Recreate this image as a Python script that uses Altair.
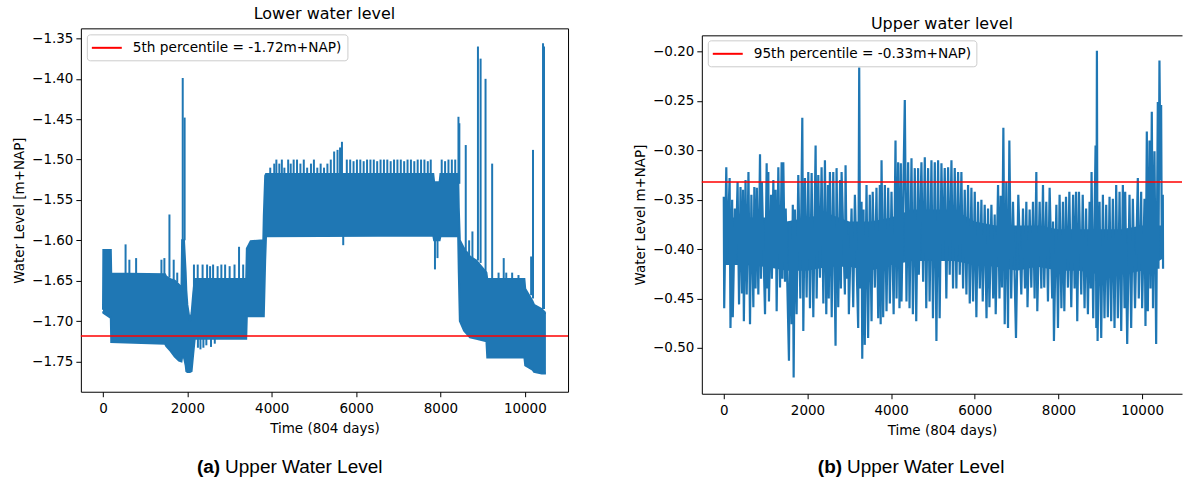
import altair as alt
import pandas as pd

BLUE = "#1f77b4"
FONT = "DejaVu Sans"

# ---------------- Lower water level ----------------
# envelope of the dense record: time step, lower and upper edge of the band
lower_t = [0, 8, 185, 195, 1470, 1500, 1600, 1700, 1800, 1860,
           1875, 1920, 1960, 1975, 2000, 2060, 2100, 2140, 2175, 3395,
           3410, 3500, 3800, 3812, 3845, 3865, 7830, 7850, 7980, 8000,
           8420, 8435, 8460, 8560, 8700, 8850, 9090, 9110, 9990, 10010,
           10180, 10220, 10400, 10490, 10500]
lower_lo = [-1.688, -1.690, -1.696, -1.726, -1.728, -1.731, -1.737, -1.744, -1.749, -1.750,
            -1.745, -1.745, -1.755, -1.762, -1.763, -1.763, -1.762, -1.740, -1.722, -1.722,
            -1.694, -1.694, -1.694, -1.694, -1.625, -1.595, -1.594, -1.600, -1.600, -1.595,
            -1.595, -1.640, -1.700, -1.712, -1.720, -1.722, -1.725, -1.745, -1.745, -1.755,
            -1.760, -1.763, -1.765, -1.765, -1.765]
lower_hi = [-1.686, -1.612, -1.612, -1.641, -1.642, -1.645, -1.648, -1.650, -1.655, -1.660,
            -1.600, -1.600, -1.640, -1.662, -1.680, -1.700, -1.690, -1.665, -1.648, -1.648,
            -1.610, -1.601, -1.600, -1.570, -1.520, -1.518, -1.518, -1.528, -1.528, -1.518,
            -1.518, -1.560, -1.600, -1.610, -1.620, -1.625, -1.640, -1.648, -1.648, -1.660,
            -1.675, -1.680, -1.685, -1.690, -1.690]

# short excursions of the lower record: time step, start level, peak level
spike_t = [535, 625, 785, 1385, 1455, 1575, 1676, 1760, 1890, 1935,
           2156, 2245, 2361, 2468, 2539, 2610, 2717, 2806, 2895, 3002,
           3118, 3225, 3323, 2250, 2310, 2380, 2450, 2560, 2650,
           3965, 4060, 4110, 4180, 4240, 4300, 4390, 4450, 4520, 4600,
           4680, 4760, 4840, 4930, 5000, 5080, 5160, 5240, 5320, 5400,
           5480, 5560, 5620, 5665, 5780, 5860, 5940, 6020, 6100, 6180,
           6260, 6340, 6420, 6500, 6580, 6660, 6740, 6820, 6900, 6980,
           7060, 7140, 7220, 7300, 7380, 7460, 7540, 7620, 7700, 7770,
           5695, 7870, 7930, 8030, 8110, 8190, 8270, 8350, 8427, 8448,
           8600, 8680, 8758, 8889, 8952, 9069, 9226, 9378, 9500, 9560,
           9700, 9850, 10150, 10194, 10432, 10455]
spike_from = [-1.641, -1.641, -1.641, -1.642, -1.642, -1.646, -1.650, -1.652, -1.600, -1.600,
              -1.660, -1.648, -1.648, -1.648, -1.648, -1.648, -1.648, -1.648, -1.648, -1.648,
              -1.648, -1.648, -1.648, -1.722, -1.722, -1.722, -1.722, -1.722, -1.722,
              -1.518, -1.518, -1.518, -1.518, -1.518, -1.518, -1.518, -1.518, -1.518, -1.518,
              -1.518, -1.518, -1.518, -1.518, -1.518, -1.518, -1.518, -1.518, -1.518, -1.518,
              -1.518, -1.518, -1.518, -1.518, -1.518, -1.518, -1.518, -1.518, -1.518, -1.518,
              -1.518, -1.518, -1.518, -1.518, -1.518, -1.518, -1.518, -1.518, -1.518, -1.518,
              -1.518, -1.518, -1.518, -1.518, -1.518, -1.518, -1.518, -1.518, -1.518, -1.518,
              -1.594, -1.600, -1.600, -1.518, -1.518, -1.518, -1.518, -1.518, -1.518, -1.530,
              -1.612, -1.620, -1.622, -1.625, -1.628, -1.640, -1.648, -1.648, -1.648, -1.648,
              -1.648, -1.648, -1.668, -1.672, -1.685, -1.685]
spike_to = [-1.605, -1.624, -1.622, -1.624, -1.622, -1.568, -1.624, -1.640, -1.399, -1.448,
            -1.630, -1.630, -1.630, -1.630, -1.632, -1.630, -1.632, -1.630, -1.630, -1.632,
            -1.630, -1.608, -1.630, -1.733, -1.735, -1.733, -1.730, -1.732, -1.728,
            -1.510, -1.505, -1.500, -1.505, -1.500, -1.510, -1.500, -1.505, -1.500, -1.500,
            -1.505, -1.500, -1.510, -1.505, -1.500, -1.510, -1.505, -1.510, -1.505, -1.500,
            -1.490, -1.488, -1.485, -1.478, -1.500, -1.500, -1.502, -1.500, -1.500, -1.502,
            -1.500, -1.500, -1.500, -1.502, -1.500, -1.500, -1.500, -1.502, -1.500, -1.500,
            -1.500, -1.502, -1.500, -1.500, -1.502, -1.500, -1.500, -1.500, -1.502, -1.500,
            -1.606, -1.636, -1.622, -1.500, -1.502, -1.500, -1.500, -1.500, -1.447, -1.455,
            -1.482, -1.600, -1.589, -1.360, -1.375, -1.400, -1.505, -1.640, -1.622, -1.640,
            -1.640, -1.643, -1.620, -1.488, -1.356, -1.360]

lower_p5 = -1.7185

# ---------------- Upper water level ----------------
upper_t = [0, 10, 60, 85, 140, 160, 200, 215, 265, 285,
           330, 365, 400, 435, 460, 480, 520, 548, 590, 627,
           660, 707, 730, 760, 790, 826, 866, 890, 910, 986,
           1025, 1045, 1065, 1080, 1130, 1150, 1185, 1205, 1240, 1264,
           1304, 1344, 1383, 1400, 1423, 1463, 1480, 1558, 1582, 1622,
           1650, 1670, 1700, 1741, 1781, 1830, 1877, 1901, 1940, 1980,
           2020, 2060, 2100, 2140, 2195, 2220, 2259, 2298, 2338, 2380,
           2418, 2450, 2490, 2510, 2537, 2580, 2617, 2672, 2696, 2736,
           2780, 2800, 2816, 2895, 2911, 2940, 2975, 2990, 3054, 3094,
           3134, 3213, 3237, 3260, 3293, 3310, 3340, 3370, 3412, 3450,
           3490, 3532, 3560, 3611, 3650, 3691, 3730, 3750, 3771, 3810,
           3850, 3890, 3930, 3970, 4009, 4060, 4105, 4130, 4168, 4200,
           4232, 4248, 4327, 4367, 4407, 4440, 4487, 4520, 4566, 4600,
           4646, 4662, 4725, 4765, 4805, 4840, 4884, 4920, 4964, 5000,
           5044, 5083, 5123, 5160, 5203, 5240, 5282, 5320, 5362, 5400,
           5442, 5480, 5521, 5560, 5601, 5640, 5680, 5720, 5760, 5800,
           5839, 5880, 5919, 5959, 5999, 6038, 6078, 6120, 6158, 6190,
           6237, 6280, 6317, 6350, 6397, 6440, 6476, 6500, 6556, 6590,
           6619, 6650, 6683, 6715, 6754, 6794, 6826, 6870, 6913, 6985,
           7040, 7112, 7152, 7200, 7232, 7260, 7311, 7351, 7391, 7430,
           7471, 7494, 7550, 7590, 7630, 7660, 7709, 7749, 7789, 7850,
           7870, 7892, 7950, 7988, 8027, 8070, 8107, 8140, 8180, 8226,
           8260, 8306, 8350, 8386, 8420, 8449, 8490, 8545, 8580, 8624,
           8660, 8704, 8744, 8770, 8791, 8830, 8887, 8905, 8919, 8935,
           8982, 9022, 9062, 9100, 9141, 9180, 9221, 9260, 9300, 9340,
           9380, 9420, 9460, 9500, 9539, 9580, 9595, 9643, 9698, 9738,
           9778, 9830, 9897, 9920, 9977, 10000, 10057, 10080, 10112, 10136,
           10176, 10200, 10231, 10260, 10295, 10335, 10375, 10390, 10414, 10440,
           10454, 10470, 10494, 10500]
upper_v = [-0.347, -0.460, -0.317, -0.402, -0.328, -0.480, -0.350, -0.469, -0.359, -0.412,
           -0.332, -0.456, -0.337, -0.445, -0.340, -0.473, -0.330, -0.446, -0.322, -0.476,
           -0.345, -0.459, -0.337, -0.440, -0.338, -0.446, -0.304, -0.430, -0.332, -0.466,
           -0.313, -0.440, -0.322, -0.453, -0.345, -0.430, -0.330, -0.419, -0.340, -0.463,
           -0.317, -0.439, -0.312, -0.430, -0.312, -0.433, -0.359, -0.513, -0.372, -0.476,
           -0.355, -0.530, -0.360, -0.466, -0.325, -0.450, -0.267, -0.483, -0.328, -0.449,
           -0.322, -0.460, -0.323, -0.469, -0.295, -0.450, -0.325, -0.429, -0.317, -0.455,
           -0.310, -0.466, -0.335, -0.450, -0.322, -0.469, -0.322, -0.498, -0.318, -0.459,
           -0.330, -0.440, -0.322, -0.446, -0.315, -0.430, -0.385, -0.466, -0.359, -0.459,
           -0.345, -0.480, -0.216, -0.440, -0.352, -0.511, -0.360, -0.497, -0.335, -0.490,
           -0.345, -0.473, -0.342, -0.439, -0.338, -0.470, -0.335, -0.476, -0.310, -0.469,
           -0.335, -0.463, -0.338, -0.455, -0.342, -0.466, -0.290, -0.450, -0.312, -0.460,
           -0.313, -0.453, -0.249, -0.453, -0.312, -0.460, -0.308, -0.466, -0.318, -0.473,
           -0.318, -0.426, -0.312, -0.433, -0.307, -0.460, -0.318, -0.453, -0.310, -0.470,
           -0.312, -0.493, -0.310, -0.470, -0.313, -0.412, -0.318, -0.450, -0.317, -0.426,
           -0.310, -0.440, -0.318, -0.440, -0.322, -0.426, -0.322, -0.440, -0.340, -0.446,
           -0.335, -0.455, -0.338, -0.453, -0.342, -0.469, -0.352, -0.440, -0.350, -0.453,
           -0.355, -0.470, -0.359, -0.459, -0.355, -0.450, -0.365, -0.466, -0.335, -0.450,
           -0.346, -0.439, -0.277, -0.476, -0.332, -0.480, -0.290, -0.450, -0.352, -0.490,
           -0.345, -0.446, -0.359, -0.440, -0.352, -0.459, -0.360, -0.439, -0.352, -0.450,
           -0.322, -0.463, -0.352, -0.440, -0.335, -0.439, -0.352, -0.453, -0.338, -0.450,
           -0.372, -0.493, -0.355, -0.480, -0.345, -0.460, -0.352, -0.463, -0.347, -0.439,
           -0.342, -0.459, -0.345, -0.440, -0.342, -0.473, -0.342, -0.446, -0.345, -0.460,
           -0.359, -0.466, -0.352, -0.440, -0.322, -0.470, -0.295, -0.480, -0.199, -0.493,
           -0.352, -0.490, -0.345, -0.470, -0.355, -0.469, -0.347, -0.473, -0.349, -0.480,
           -0.335, -0.470, -0.342, -0.483, -0.335, -0.460, -0.342, -0.496, -0.345, -0.480,
           -0.349, -0.460, -0.328, -0.450, -0.342, -0.460, -0.349, -0.478, -0.281, -0.463,
           -0.290, -0.440, -0.261, -0.460, -0.301, -0.496, -0.251, -0.420, -0.209, -0.330,
           -0.254, -0.400, -0.345, -0.420]

# solidly covered core of the upper record: time step, lower and upper edge
core_t = [0, 500, 1000, 1500, 2000, 2500, 3000, 3500, 4000, 4500, 5000,
          5500, 6000, 6500, 7000, 7500, 8000, 8500, 9000, 9500, 10000, 10480]
core_lo = [-0.416, -0.416, -0.418, -0.422, -0.422, -0.418, -0.418, -0.422, -0.416, -0.412, -0.412,
           -0.412, -0.416, -0.418, -0.422, -0.418, -0.422, -0.422, -0.426, -0.426, -0.422, -0.410]
core_hi = [-0.368, -0.368, -0.368, -0.372, -0.368, -0.364, -0.372, -0.372, -0.368, -0.360, -0.360,
           -0.360, -0.372, -0.376, -0.376, -0.376, -0.380, -0.380, -0.380, -0.380, -0.376, -0.376]

upper_p95 = -0.332

# ---------------- axes and texts ----------------
x_ticks = [0, 2000, 4000, 6000, 8000, 10000]
lower_ticks = [-1.75, -1.70, -1.65, -1.60, -1.55, -1.50, -1.45, -1.40, -1.35]
upper_ticks = [-0.50, -0.45, -0.40, -0.35, -0.30, -0.25, -0.20]

titles = ["Lower water level", "Upper water level"]
y_titles = ["Water Level [m+NAP]", "Water Level m+NAP]"]
x_title = "Time (804 days)"
caption_tags = ["(a)", "(b)"]
caption_text = "Upper Water Level"

lower_label = f"5th percentile = {lower_p5:.2f}m+NAP)"
upper_label = f"95th percentile = {upper_p95:.2f}m+NAP)"

LW, LH = 488, 364
RW, RH = 481, 366   # right view; its data range starts 7 px below the top
R_TOP = 7


def legend(**kw):
    return alt.Legend(title=None, padding=5,
                      fillColor="white", strokeColor="#cccccc", cornerRadius=3,
                      symbolType="M-2,0H2", symbolSize=225, symbolStrokeWidth=2,
                      symbolOffset=6.5, labelOffset=17.5,
                      labelFont=FONT, labelFontSize=13.7, labelColor="black",
                      labelLimit=400, **kw)


def captions(tag, x_tag, y):
    src = pd.DataFrame({"s": [tag], "r": [caption_text]})
    bold = alt.Chart(src).mark_text(font="Liberation Sans", fontSize=19, fontWeight="bold",
                                    align="right", baseline="middle", color="black").encode(
        x=alt.value(x_tag), y=alt.value(y), text="s:N")
    rest = alt.Chart(src).mark_text(font="Liberation Sans", fontSize=19,
                                    align="left", baseline="middle", color="black").encode(
        x=alt.value(x_tag + 5), y=alt.value(y), text="r:N")
    return bold + rest


def x_axis(**kw):
    return alt.Axis(values=x_ticks, format="d", title=x_title, titleFontWeight="normal",
                    labelPadding=5, titlePadding=6, **kw)


# ---- left panel ----
lx_scale = alt.Scale(domain=[-525, 11025], nice=False, zero=False)
ly_scale = alt.Scale(domain=[-1.7875, -1.3375], nice=False, zero=False)
lx_axis = x_axis(domain=False)
ly_axis = alt.Axis(values=lower_ticks, format=".2f", title=y_titles[0], domain=False)

band = pd.DataFrame({"t": lower_t, "lo": lower_lo, "hi": lower_hi})
spikes = pd.DataFrame({"t": spike_t, "a": spike_from, "b": spike_to})
p5 = pd.DataFrame({"v": [lower_p5], "label": [lower_label]})


def lx(f="t"):
    return alt.X(f"{f}:Q", scale=lx_scale, axis=lx_axis)


def ly(f):
    return alt.Y(f"{f}:Q", scale=ly_scale, axis=ly_axis)


left = alt.layer(
    alt.Chart(band).mark_area(color=BLUE).encode(x=lx(), y=ly("lo"), y2="hi:Q"),
    alt.Chart(band).mark_line(color=BLUE, strokeWidth=2).encode(x=lx(), y=ly("hi")),
    alt.Chart(band).mark_line(color=BLUE, strokeWidth=2).encode(x=lx(), y=ly("lo")),
    alt.Chart(spikes).mark_rule(color=BLUE, strokeWidth=2).encode(x=lx(), y=ly("a"), y2="b:Q"),
    alt.Chart(p5).mark_rule(strokeWidth=1.6).encode(
        y=ly("v"),
        color=alt.Color("label:N", scale=alt.Scale(domain=[lower_label], range=["red"]),
                        legend=legend(orient="top-left", offset=6))),
    captions(caption_tags[0], 139.5, 439),
).properties(
    width=LW, height=LH,
    title=alt.TitleParams(titles[0], font=FONT, fontSize=16, fontWeight="normal",
                          color="black", offset=6, anchor="middle"),
)

# ---- right panel ----
rx_scale = alt.Scale(domain=[-525, 10953], nice=False, zero=False)
ry_scale = alt.Scale(domain=[-0.5465, -0.1835], nice=False, zero=False, range=[RH, R_TOP])
rx_axis = x_axis(domain=True, domainColor="black", orient="bottom")
ry_axis = alt.Axis(values=upper_ticks, format=".2f", title=y_titles[1], domain=True,
                   domainColor="black")

trace = pd.DataFrame({"t": upper_t, "v": upper_v})
core = pd.DataFrame({"t": core_t, "lo": core_lo, "hi": core_hi})
p95 = pd.DataFrame({"v": [upper_p95], "label": [upper_label]})

right = alt.layer(
    alt.Chart(core).mark_area(color=BLUE).encode(
        x=alt.X("t:Q", scale=rx_scale, axis=None),
        y=alt.Y("lo:Q", scale=ry_scale, axis=ry_axis), y2="hi:Q"),
    alt.Chart(trace).mark_line(color=BLUE, strokeWidth=2.2).encode(
        x=alt.X("t:Q", scale=rx_scale, axis=rx_axis),
        y=alt.Y("v:Q", scale=ry_scale, axis=ry_axis)),
    alt.Chart(trace).mark_point(opacity=0).encode(
        x=alt.X("t:Q", scale=rx_scale,
                axis=alt.Axis(orient="top", labels=False, ticks=False, title=None,
                              domain=True, domainColor="black", offset=-R_TOP))),
    alt.Chart(p95).mark_rule(strokeWidth=1.6).encode(
        y=alt.Y("v:Q", scale=ry_scale, axis=ry_axis),
        color=alt.Color("label:N", scale=alt.Scale(domain=[upper_label], range=["red"]),
                        legend=legend(orient="none", legendX=6, legendY=12))),
    captions(caption_tags[1], 140.5, 439),
).resolve_axis(x="independent").properties(
    width=RW, height=RH,
    view=alt.ViewBackground(stroke="transparent"),
    title=alt.TitleParams(titles[1], font=FONT, fontSize=16, fontWeight="normal",
                          color="black", offset=6, dy=10, anchor="middle"),
)

chart = alt.hconcat(left, right, spacing=63).resolve_scale(
    color="independent"
).properties(
    padding={"left": 12, "top": 5, "right": 0, "bottom": 0},
    background="white",
).configure_view(
    stroke="black", strokeWidth=1,
).configure_axis(
    grid=False, labelFont=FONT, labelFontSize=13.5, labelColor="black",
    titleFont=FONT, titleFontSize=13.5, titleFontWeight="normal", titleColor="black",
    tickColor="black", tickSize=5, tickWidth=1, labelPadding=3, titlePadding=5,
)

chart.save("out.html", embed_options={"renderer": "svg", "actions": False})
